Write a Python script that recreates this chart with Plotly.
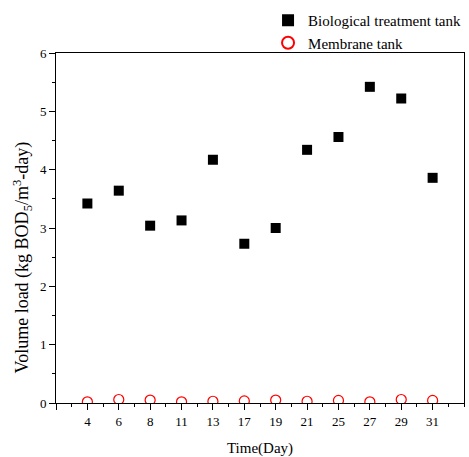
import plotly.graph_objects as go

days = ["4", "6", "8", "11", "13", "17", "19", "21", "25", "27", "29", "31"]
bio = [3.42, 3.64, 3.04, 3.13, 4.17, 2.73, 3.00, 4.34, 4.56, 5.42, 5.22, 3.86]
membrane = [0.02, 0.06, 0.05, 0.02, 0.03, 0.035, 0.05, 0.03, 0.045, 0.02, 0.06, 0.045]

pos = list(range(1, len(days) + 1))
font = "Liberation Serif, Times New Roman, serif"

fig = go.Figure()
fig.add_trace(go.Scatter(
    x=pos, y=bio, mode="markers", name="Biological treatment tank",
    marker=dict(symbol="square", size=10, color="black"),
))
fig.add_trace(go.Scatter(
    x=pos, y=membrane, mode="markers", name="Membrane tank", cliponaxis=True,
    marker=dict(symbol="circle-open", size=10, color="red", line=dict(width=1.2)),
))

fig.update_layout(
    width=469, height=457,
    margin=dict(l=56, r=3, t=53, b=54),
    plot_bgcolor="white", paper_bgcolor="white",
    font=dict(family=font, size=13, color="black"),
    showlegend=True,
    legend=dict(x=1.005, xanchor="right", y=1.14, yanchor="top",
                font=dict(family=font, size=15), bgcolor="rgba(0,0,0,0)",
                tracegroupgap=0, itemsizing="constant"),
    annotations=[dict(
        text="Volume load (kg BOD<sub>5</sub>/m<sup>3</sup>-day)",
        xref="paper", yref="paper", x=-0.083, y=0.416,
        xanchor="center", yanchor="middle", textangle=-90, showarrow=False,
        font=dict(family=font, size=18, color="black"),
    )],
)
fig.update_xaxes(
    range=[0, 13], tickvals=[0] + pos, ticktext=[""] + days,
    ticks="outside", ticklen=6, tickwidth=1, tickcolor="black",
    showline=True, linecolor="black", linewidth=1, mirror=True,
    showgrid=False, zeroline=False,
    minor=dict(tick0=0, dtick=0.5, ticks="outside", ticklen=3, tickcolor="black", showgrid=False),
    title=dict(text="Time(Day)", font=dict(family=font, size=15), standoff=15),
)
fig.update_yaxes(
    range=[0, 6], dtick=1, tick0=0,
    ticks="outside", ticklen=6, tickwidth=1, tickcolor="black",
    showline=True, linecolor="black", linewidth=1, mirror=True,
    showgrid=False, zeroline=False,
    minor=dict(dtick=0.5, ticks="outside", ticklen=3, tickcolor="black", showgrid=False),
)

fig.write_html("out.html")
